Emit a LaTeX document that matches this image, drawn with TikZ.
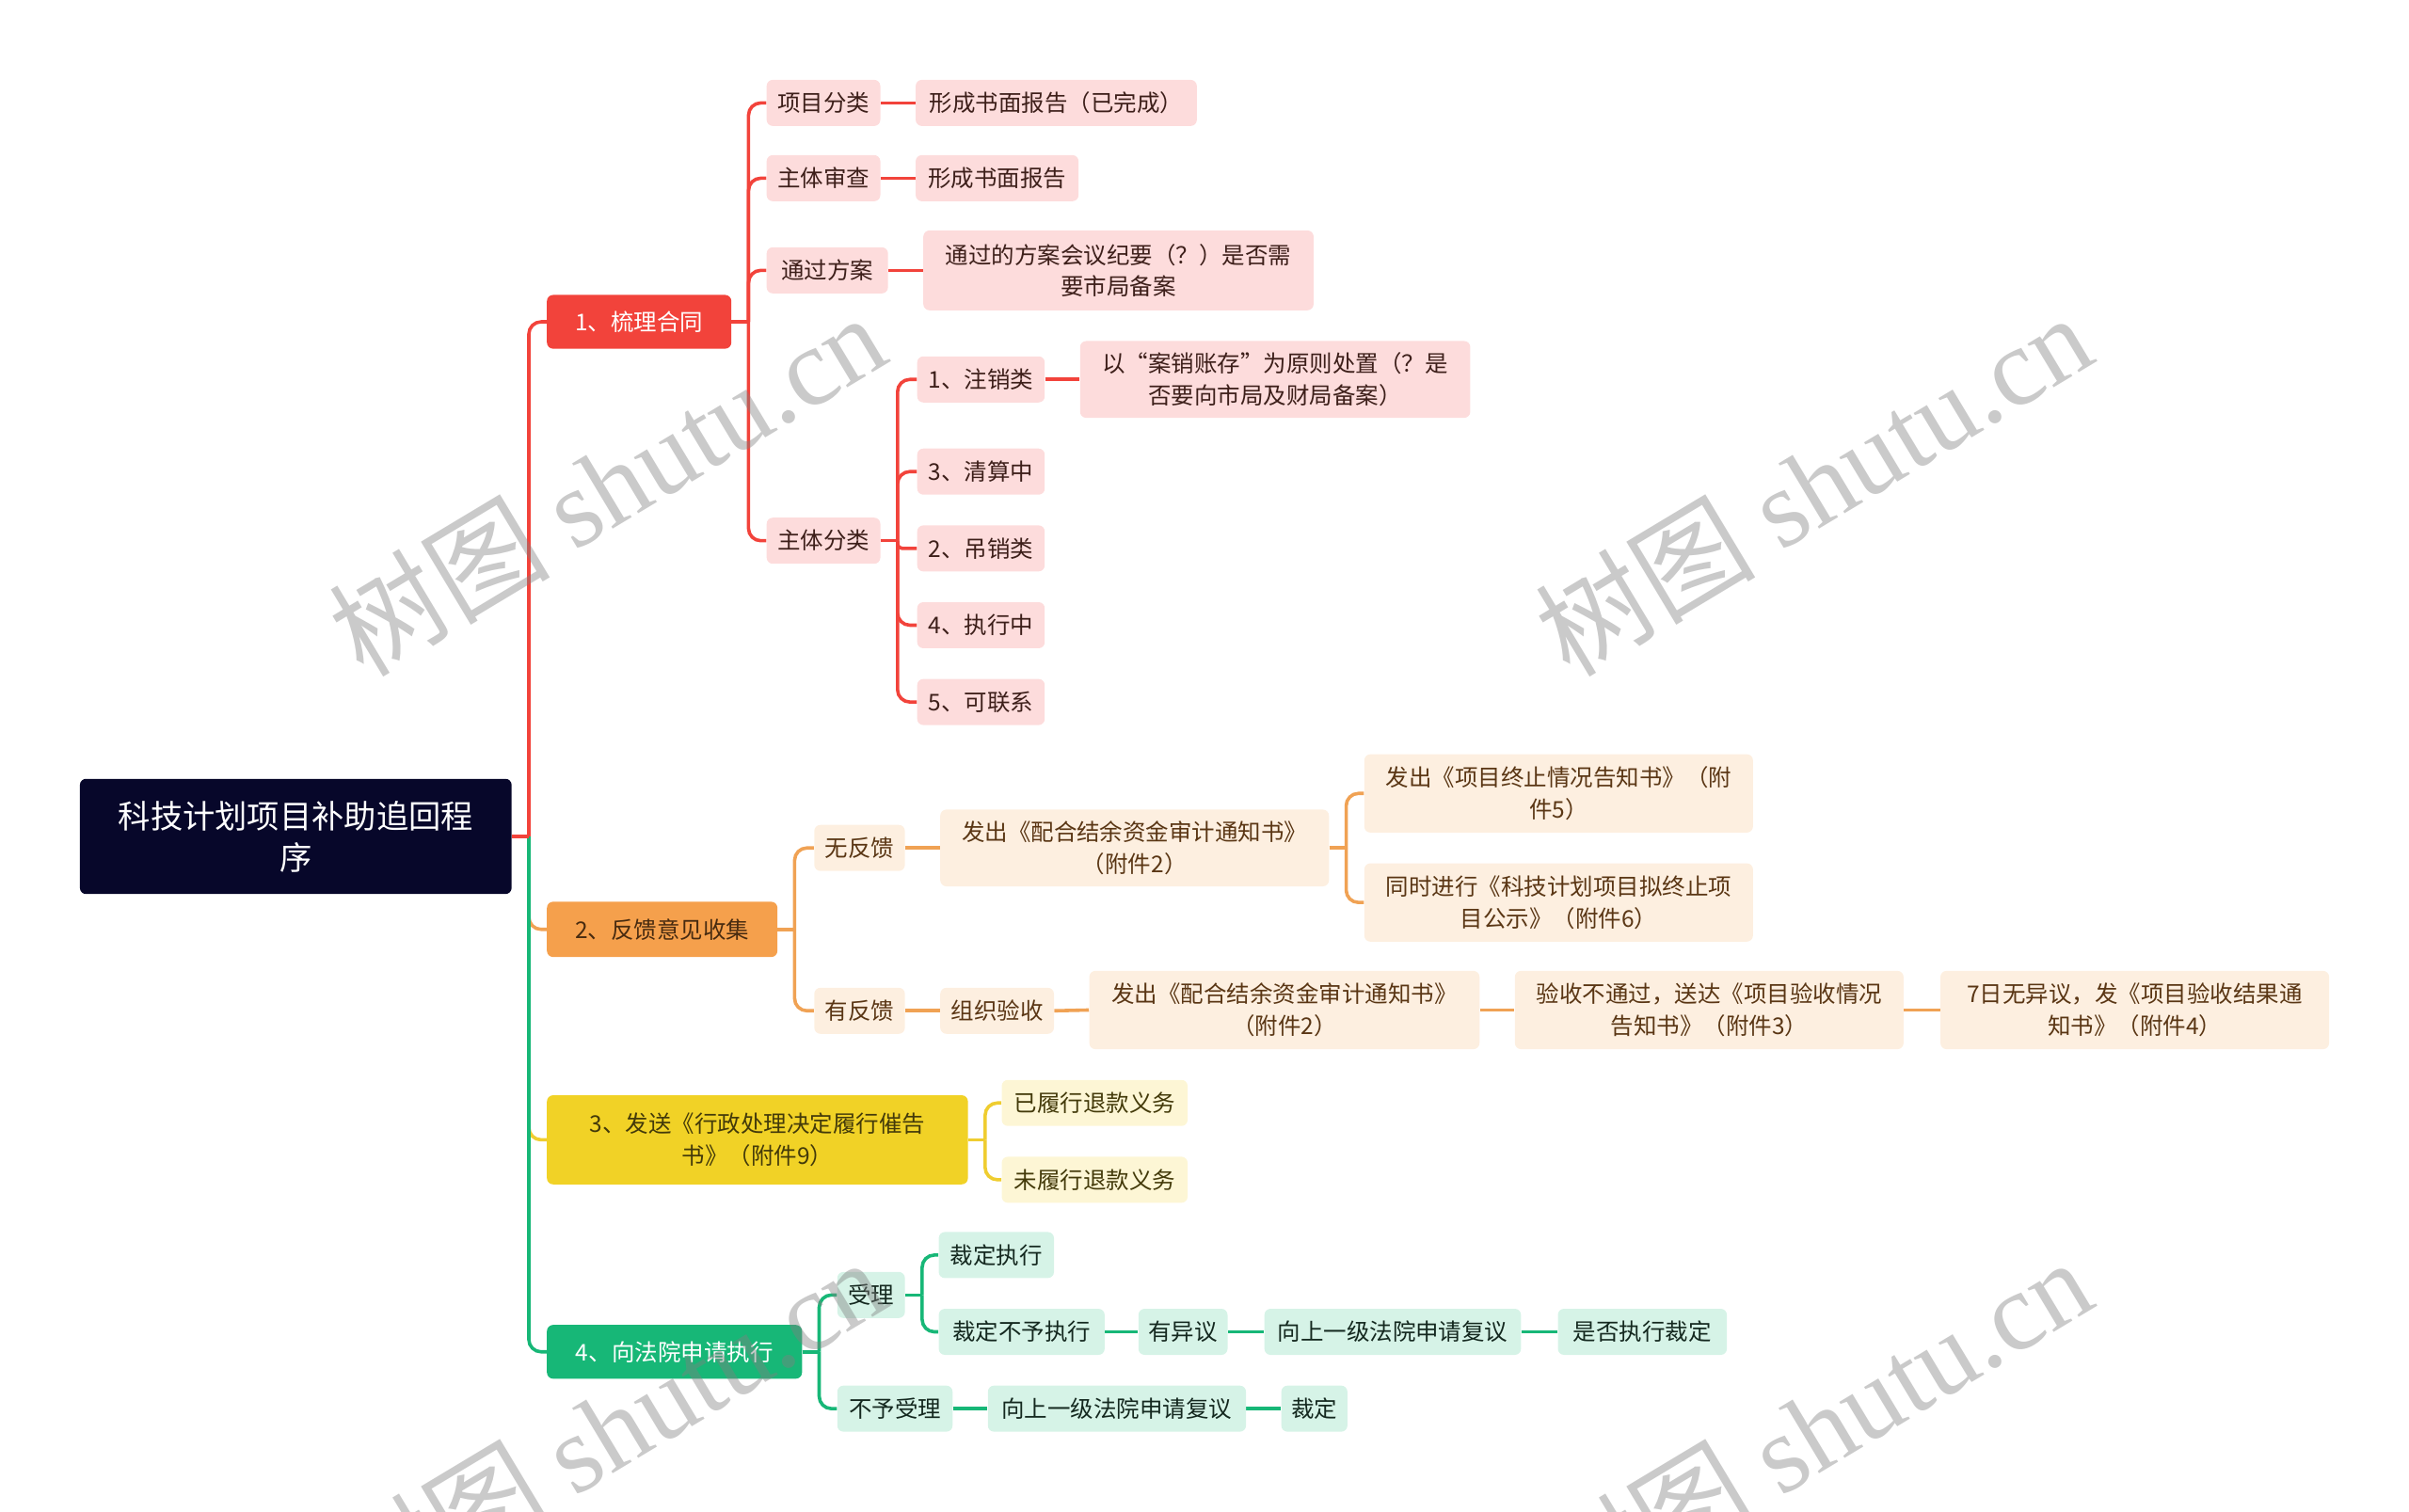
\documentclass[tikz,border=0pt]{standalone}
\usepackage{fontspec}
\newfontfamily\cjk{Noto Sans CJK SC}
\newfontfamily\wmserif{Liberation Serif}
\usetikzlibrary{backgrounds}
\definecolor{rootc}{HTML}{07072A}
\definecolor{redm}{HTML}{F2433B}
\definecolor{redl}{HTML}{FDDCDC}
\definecolor{redt}{HTML}{3D1F1A}
\definecolor{orgm}{HTML}{F5A04C}
\definecolor{orgln}{HTML}{F0A254}
\definecolor{orgl}{HTML}{FDEFE0}
\definecolor{orgt}{HTML}{5A3614}
\definecolor{yelm}{HTML}{F1D226}
\definecolor{yelln}{HTML}{EFCD30}
\definecolor{yell}{HTML}{FDF6D5}
\definecolor{yelt}{HTML}{433A0A}
\definecolor{grnm}{HTML}{17B777}
\definecolor{grnl}{HTML}{D6F3E7}
\definecolor{grnt}{HTML}{14281F}
\tikzset{
  box/.style={rounded corners=4, inner sep=0, align=center, minimum height=30,
    font=\cjk\fontsize{15}{20.5}\selectfont},
  rootbox/.style={box, fill=rootc, text=white, font=\cjk\fontsize{21}{27}\selectfont},
  redbox/.style={box, fill=redl, text=redt},
  orgbox/.style={box, fill=orgl, text=orgt},
  yelbox/.style={box, fill=yell, text=yelt},
  grnbox/.style={box, fill=grnl, text=grnt},
  redln/.style={draw=redm, line width=2.2},
  orgline/.style={draw=orgln, line width=2.2},
  yelline/.style={draw=yelln, line width=2.2},
  grnline/.style={draw=grnm, line width=2.2},
  wm/.style={text=gray, opacity=0.42, inner sep=0},
}
% branch: style, parent, child, corner radius
\newcommand\tbr[4]{%
  \draw[#1] (#2.east) -- ++(11,0);
  \draw[#1, rounded corners=#4] (#2.east) ++(11,0) |- (#3.west);}
\newcommand\chn[3]{\draw[#1] (#2.east) -- (#3.west);}
\begin{document}
\begin{tikzpicture}[x=1pt,y=-1pt]
\useasboundingbox (0,0) rectangle (1568,984);
\clip (0,0) rectangle (1568,984);

% root
\node[rootbox, minimum width=281, minimum height=75] (root) at (192.5,544.5) {科技计划项目补助追回程\\序};

% level 1
\node[box, fill=redm, text=white, minimum width=120, minimum height=35] (a) at (416,209.5) {1、梳理合同};
\node[box, fill=orgm, text=orgt!80!black, minimum width=150, minimum height=36] (b) at (431,605) {2、反馈意见收集};
\node[box, fill=yelm, text=yelt, minimum width=274, minimum height=58] (c) at (493,742) {3、发送《行政处理决定履行催告\\书》（附件9）};
\node[box, fill=grnm, text=white, minimum width=166, minimum height=35] (d) at (439,880) {4、向法院申请执行};

% red subtree
\node[redbox, minimum width=74] (a1) at (536,67) {项目分类};
\node[redbox, minimum width=183] (a1x) at (687.5,67) {形成书面报告（已完成）};
\node[redbox, minimum width=74] (a2) at (536,116) {主体审查};
\node[redbox, minimum width=106] (a2x) at (649,116) {形成书面报告};
\node[redbox, minimum width=79] (a3) at (538.5,176) {通过方案};
\node[redbox, minimum width=254, minimum height=52] (a3x) at (728,176) {通过的方案会议纪要（？）是否需\\要市局备案};
\node[redbox, minimum width=74] (a4) at (536,352) {主体分类};
\node[redbox, minimum width=83] (a41) at (638.5,247) {1、注销类};
\node[redbox, minimum width=254, minimum height=50] (a41x) at (830,247) {以“案销账存”为原则处置（？是\\否要向市局及财局备案）};
\node[redbox, minimum width=83] (a42) at (638.5,307) {3、清算中};
\node[redbox, minimum width=83] (a43) at (638.5,357) {2、吊销类};
\node[redbox, minimum width=83] (a44) at (638.5,407) {4、执行中};
\node[redbox, minimum width=83] (a45) at (638.5,457) {5、可联系};

% orange subtree
\node[orgbox, minimum width=59] (b1) at (559.5,552) {无反馈};
\node[orgbox, minimum width=253, minimum height=50] (b1x) at (738.5,552) {发出《配合结余资金审计通知书》\\（附件2）};
\node[orgbox, minimum width=253, minimum height=51] (b1a) at (1014.5,516.5) {发出《项目终止情况告知书》（附\\件5）};
\node[orgbox, minimum width=253, minimum height=51] (b1b) at (1014.5,587.5) {同时进行《科技计划项目拟终止项\\目公示》（附件6）};
\node[orgbox, minimum width=59] (b2) at (559.5,658) {有反馈};
\node[orgbox, minimum width=74] (b2x) at (649,658) {组织验收};
\node[orgbox, minimum width=254, minimum height=51] (b2y) at (836,657.5) {发出《配合结余资金审计通知书》\\（附件2）};
\node[orgbox, minimum width=253, minimum height=51] (b2z) at (1112.5,657.5) {验收不通过，送达《项目验收情况\\告知书》（附件3）};
\node[orgbox, minimum width=253, minimum height=51] (b2w) at (1389.5,657.5) {7日无异议，发《项目验收结果通\\知书》（附件4）};

% yellow subtree
\node[yelbox, minimum width=121] (c1) at (712.5,718) {已履行退款义务};
\node[yelbox, minimum width=121] (c2) at (712.5,768) {未履行退款义务};

% green subtree
\node[grnbox, minimum width=44] (d1) at (567,843) {受理};
\node[grnbox, minimum width=75] (d11) at (648.5,817) {裁定执行};
\node[grnbox, minimum width=108] (d12) at (665,867) {裁定不予执行};
\node[grnbox, minimum width=58] (d12a) at (770,867) {有异议};
\node[grnbox, minimum width=167] (d12b) at (906.5,867) {向上一级法院申请复议};
\node[grnbox, minimum width=110] (d12c) at (1069,867) {是否执行裁定};
\node[grnbox, minimum width=75] (d2) at (582.5,917) {不予受理};
\node[grnbox, minimum width=168] (d2a) at (727,917) {向上一级法院申请复议};
\node[grnbox, minimum width=43] (d2b) at (855.5,917) {裁定};

\begin{scope}[on background layer]
  % level 1 connectors
  \tbr{orgline}{root}{b}{8}
  \tbr{yelline}{root}{c}{8}
  \tbr{grnline}{root}{d}{8}
  \tbr{redln}{root}{a}{8}
  % red
  \tbr{redln}{a}{a1}{8}
  \tbr{redln}{a}{a2}{8}
  \tbr{redln}{a}{a3}{8}
  \tbr{redln}{a}{a4}{8}
  \chn{redln}{a1}{a1x}
  \chn{redln}{a2}{a2x}
  \chn{redln}{a3}{a3x}
  \tbr{redln}{a4}{a41}{8}
  \tbr{redln}{a4}{a42}{8}
  \tbr{redln}{a4}{a43}{3}
  \tbr{redln}{a4}{a44}{8}
  \tbr{redln}{a4}{a45}{8}
  \chn{redln}{a41}{a41x}
  % orange
  \tbr{orgline}{b}{b1}{8}
  \tbr{orgline}{b}{b2}{8}
  \chn{orgline}{b1}{b1x}
  \tbr{orgline}{b1x}{b1a}{8}
  \tbr{orgline}{b1x}{b1b}{8}
  \chn{orgline}{b2}{b2x}
  \chn{orgline}{b2x}{b2y}
  \chn{orgline}{b2y}{b2z}
  \chn{orgline}{b2z}{b2w}
  % yellow
  \tbr{yelline}{c}{c1}{8}
  \tbr{yelline}{c}{c2}{8}
  % green
  \tbr{grnline}{d}{d1}{8}
  \tbr{grnline}{d}{d2}{8}
  \tbr{grnline}{d1}{d11}{8}
  \tbr{grnline}{d1}{d12}{8}
  \chn{grnline}{d12}{d12a}
  \chn{grnline}{d12a}{d12b}
  \chn{grnline}{d12b}{d12c}
  \chn{grnline}{d2}{d2a}
  \chn{grnline}{d2a}{d2b}
\end{scope}

% watermarks
\node[wm, rotate=31] (wm1) at (395,315) {\cjk\fontsize{72}{72}\selectfont 树图 \wmserif shutu.cn};
\node[wm, rotate=31] (wm2) at (1180,315) {\cjk\fontsize{72}{72}\selectfont 树图 \wmserif shutu.cn};
\node[wm, rotate=31] (wm3) at (395,930) {\cjk\fontsize{72}{72}\selectfont 树图 \wmserif shutu.cn};
\node[wm, rotate=31] (wm4) at (1180,930) {\cjk\fontsize{72}{72}\selectfont 树图 \wmserif shutu.cn};
\end{tikzpicture}
\end{document}
